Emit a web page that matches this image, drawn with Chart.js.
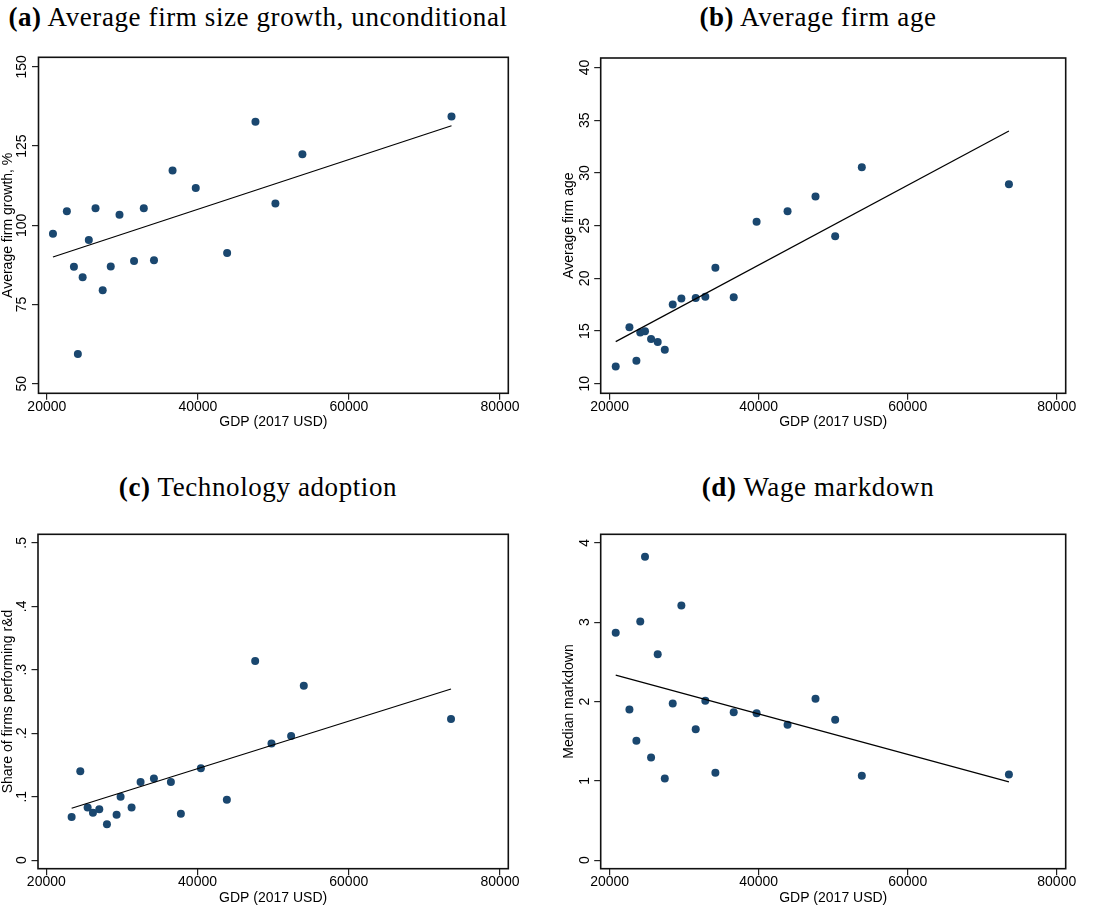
<!DOCTYPE html>
<html>
<head>
<meta charset="utf-8">
<script src="https://cdn.jsdelivr.net/npm/chart.js@4.4.1/dist/chart.umd.min.js"></script>
<style>
  body { margin: 0; background: #fff; width: 1107px; height: 911px; position: relative; overflow: hidden; }
  .title { position: absolute; font-family: "Liberation Serif", serif; font-size: 27px; line-height: 27px;
           letter-spacing: 0.6px; color: #000; white-space: nowrap; text-align: center; width: 560px; }
  canvas { position: absolute; }
</style>
</head>
<body>
<div class="title" style="left:-22px; top:4px;"><b>(a)</b> Average firm size growth, unconditional</div>
<div class="title" style="left:538px; top:4px;"><b>(b)</b> Average firm age</div>
<div class="title" style="left:-22px; top:474px;"><b>(c)</b> Technology adoption</div>
<div class="title" style="left:538px; top:474px;"><b>(d)</b> Wage markdown</div>

<canvas id="chartA" width="545" height="405" style="left:0; top:40px;"></canvas>
<canvas id="chartB" width="552" height="405" style="left:555px; top:40px;"></canvas>
<canvas id="chartC" width="545" height="401" style="left:0; top:510px;"></canvas>
<canvas id="chartD" width="552" height="401" style="left:555px; top:510px;"></canvas>

<script>
// GDP per country (2017 USD), shared by panels a, b and d
const gdp = [20815, 22655, 23590, 24110, 24745, 25560, 26450, 27400, 28465, 29625,
             31550, 32840, 34190, 36650, 39720, 43875, 47625, 50265, 53840, 73580];
const firmGrowth = [97.3, 104.4, 86.9, 59.4, 83.6, 95.4, 105.4, 79.5, 87.0, 103.3,
                    88.7, 105.4, 89.0, 117.3, 111.8, 91.3, 132.7, 106.9, 122.4, 134.3];
const firmAge = [11.64, 15.36, 12.18, 14.86, 14.98, 14.26, 13.97, 13.22, 17.51, 18.08,
                 18.14, 18.26, 21.0, 18.2, 25.36, 26.37, 27.76, 24.0, 30.54, 28.93];
const markdown = [2.866, 1.899, 1.504, 3.008, 3.824, 1.294, 2.597, 1.029, 1.975, 3.21,
                  1.651, 2.008, 1.101, 1.866, 1.853, 1.706, 2.034, 1.769, 1.063, 1.080];

// panel c has its own country sample
const gdpRd = [23348, 24493, 25463, 26167, 27004, 28018, 29295, 29824, 31278, 32467,
               34229, 36476, 37797, 40441, 43877, 47621, 49780, 52379, 54053, 73524];
const rdShare = [0.068, 0.140, 0.083, 0.0745, 0.080, 0.0567, 0.0714, 0.100, 0.083, 0.123,
                 0.1285, 0.123, 0.073, 0.145, 0.095, 0.3137, 0.184, 0.1957, 0.275, 0.2225];

// fitted lines, end points
const fitGrowthX = [20815, 73580], fitGrowthY = [90.0, 131.4];
const fitAgeX = [20815, 73580], fitAgeY = [14.0, 33.97];
const fitRdX = [23348, 73524], fitRdY = [0.0818, 0.2697];
const fitMarkdownX = [20815, 73580], fitMarkdownY = [2.332, 0.987];

// ticks
const xTicks = [20000, 40000, 60000, 80000];
const xTickLabels = ['20000', '40000', '60000', '80000'];
const growthTicks = [50, 75, 100, 125, 150];
const growthLabels = ['50', '75', '100', '125', '150'];
const ageTicks = [10, 15, 20, 25, 30, 35, 40];
const ageLabels = ['10', '15', '20', '25', '30', '35', '40'];
const rdTicks = [0, 0.1, 0.2, 0.3, 0.4, 0.5];
const rdLabels = ['0', '.1', '.2', '.3', '.4', '.5'];
const markdownTicks = [0, 1, 2, 3, 4];
const markdownLabels = ['0', '1', '2', '3', '4'];

const navy = '#1a476f';
const sans = '"Liberation Sans", Arial, sans-serif';
const X_AXIS_H = 40;

// Stata-style box around the plot region
const framePlugin = {
    id: 'frame',
    afterDraw(chart) {
        const a = chart.chartArea;
        const ctx = chart.ctx;
        ctx.save();
        ctx.strokeStyle = '#111';
        ctx.lineWidth = 1.6;
        ctx.strokeRect(a.left, a.top, a.right - a.left, a.bottom - a.top);
        ctx.restore();
    }
};

const measure = document.createElement('canvas').getContext('2d');
measure.font = '14px "Liberation Sans"';

function scatterPanel(id, p) {
    const canvas = document.getElementById(id);
    const W = canvas.width, H = canvas.height;
    const widest = Math.max(...p.yLabels.map(s => measure.measureText(s).width));
    const font = {family: sans, size: 14};

    new Chart(canvas, {
        type: 'scatter',
        data: {
            datasets: [{
                data: p.x.map((x, i) => ({x: x, y: p.y[i]})),
                backgroundColor: navy,
                borderWidth: 0,
                pointRadius: 4,
                order: 2
            }, {
                data: p.fitX.map((x, i) => ({x: x, y: p.fitY[i]})),
                showLine: true,
                borderColor: '#000',
                borderWidth: 1.2,
                pointRadius: 0,
                order: 1
            }]
        },
        options: {
            responsive: false,
            animation: false,
            events: [],
            layout: {
                padding: {left: 0, right: W - p.area.right, top: p.area.top, bottom: H - p.area.bottom - X_AXIS_H}
            },
            plugins: {legend: {display: false}, tooltip: {enabled: false}},
            scales: {
                x: {
                    type: 'linear',
                    min: p.xMin,
                    max: p.xMax,
                    afterBuildTicks: s => { s.ticks = xTicks.map(v => ({value: v})); },
                    afterFit: s => { s.height = X_AXIS_H; },
                    ticks: {
                        callback: (v, i) => xTickLabels[i],
                        autoSkip: false, maxRotation: 0,
                        font: font, color: '#000', padding: -1
                    },
                    grid: {drawOnChartArea: false, tickLength: 6.5, color: '#222', lineWidth: 1.2},
                    border: {display: false},
                    title: {display: true, text: 'GDP (2017 USD)', font: font, color: '#000', padding: {top: 0, bottom: 2.6}}
                },
                y: {
                    type: 'linear',
                    min: p.yMin,
                    max: p.yMax,
                    afterBuildTicks: s => { s.ticks = p.yTicks.map(v => ({value: v})); },
                    afterFit: s => { s.width = p.area.left; },
                    ticks: {
                        callback: (v, i) => p.yLabels[i],
                        autoSkip: false, minRotation: 90, maxRotation: 90, crossAlign: 'center',
                        font: font, color: '#000', padding: 9.5 - widest / 2
                    },
                    grid: {drawOnChartArea: false, tickLength: 6.5, color: '#222', lineWidth: 1.2},
                    border: {display: false},
                    title: {display: true, text: p.yTitle, font: font, color: '#000',
                            padding: {top: Math.max(0, p.yTitleX - 8.4), bottom: 0}}
                }
            }
        },
        plugins: [framePlugin]
    });
}

scatterPanel('chartA', {
    x: gdp, y: firmGrowth, fitX: fitGrowthX, fitY: fitGrowthY,
    xMin: 18900, xMax: 81100, yMin: 47, yMax: 153,
    yTicks: growthTicks, yLabels: growthLabels, yTitle: 'Average firm growth, %',
    area: {left: 38.5, right: 508.3, top: 17.3, bottom: 353.3}, yTitleX: 7.5
});
scatterPanel('chartB', {
    x: gdp, y: firmAge, fitX: fitAgeX, fitY: fitAgeY,
    xMin: 18800, xMax: 81200, yMin: 9.1, yMax: 40.9,
    yTicks: ageTicks, yLabels: ageLabels, yTitle: 'Average firm age',
    area: {left: 45.7, right: 510.7, top: 18, bottom: 353.3}, yTitleX: 14.5
});
scatterPanel('chartC', {
    x: gdpRd, y: rdShare, fitX: fitRdX, fitY: fitRdY,
    xMin: 18900, xMax: 81100, yMin: -0.0135, yMax: 0.5135,
    yTicks: rdTicks, yLabels: rdLabels, yTitle: 'Share of firms performing r&d',
    area: {left: 38, right: 508.3, top: 24.3, bottom: 358.7}, yTitleX: 7
});
scatterPanel('chartD', {
    x: gdp, y: markdown, fitX: fitMarkdownX, fitY: fitMarkdownY,
    xMin: 18800, xMax: 81200, yMin: -0.108, yMax: 4.108,
    yTicks: markdownTicks, yLabels: markdownLabels, yTitle: 'Median markdown',
    area: {left: 45.7, right: 510.7, top: 24.3, bottom: 358.7}, yTitleX: 14.5
});
</script>
</body>
</html>
